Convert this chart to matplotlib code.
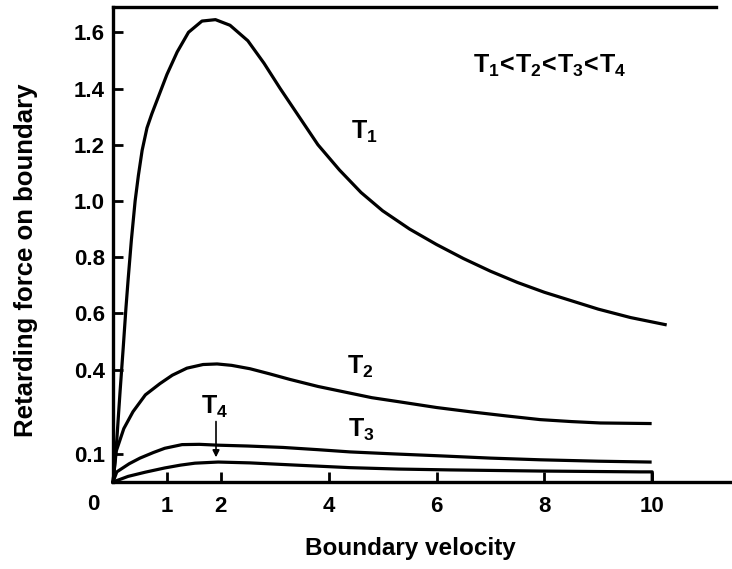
import matplotlib
matplotlib.use("Agg")
import matplotlib.pyplot as plt

plt.rcParams['font.family'] = ['Liberation Sans', 'DejaVu Sans']
plt.rcParams['mathtext.fontset'] = 'custom'
plt.rcParams['mathtext.rm'] = 'Liberation Sans:bold'
plt.rcParams['mathtext.it'] = 'Liberation Sans:bold'
plt.rcParams['mathtext.bf'] = 'Liberation Sans:bold'

# curves (velocity, force)
t1_x = [0, 0.03, 0.07, 0.13, 0.19, 0.24, 0.28, 0.34, 0.41, 0.47, 0.54, 0.63, 0.72, 0.82,
        1.0, 1.19, 1.4, 1.65, 1.9, 2.17, 2.5, 2.8, 3.1, 3.45, 3.8, 4.2, 4.6, 5.0, 5.5,
        6.0, 6.5, 7.0, 7.5, 8.0, 8.5, 9.0, 9.6, 10.24]
t1_y = [0, 0.06, 0.15, 0.32, 0.48, 0.62, 0.72, 0.86, 1.0, 1.09, 1.18, 1.26, 1.31, 1.36,
        1.45, 1.53, 1.60, 1.64, 1.645, 1.625, 1.57, 1.49, 1.40, 1.30, 1.20, 1.11, 1.03,
        0.965, 0.90, 0.845, 0.795, 0.75, 0.71, 0.675, 0.645, 0.615, 0.585, 0.56]

t2_x = [0, 0.06, 0.2, 0.37, 0.6, 0.87, 1.1, 1.37, 1.67, 1.93, 2.2, 2.54, 2.9, 3.28,
        3.8, 4.3, 4.8, 5.32, 6.0, 6.62, 7.3, 7.92, 8.5, 9.04, 9.96]
t2_y = [0, 0.11, 0.19, 0.25, 0.31, 0.35, 0.38, 0.405, 0.418, 0.42, 0.415, 0.403, 0.385,
        0.365, 0.34, 0.32, 0.30, 0.285, 0.265, 0.25, 0.235, 0.222, 0.215, 0.21, 0.208]

t3_x = [0, 0.07, 0.3, 0.5, 0.75, 0.96, 1.28, 1.6, 1.95, 2.5, 3.15, 3.8, 4.4, 5.2, 6.07,
        7.0, 7.92, 9.0, 9.96]
t3_y = [0, 0.036, 0.065, 0.085, 0.105, 0.12, 0.133, 0.134, 0.131, 0.128, 0.123, 0.115,
        0.107, 0.1, 0.093, 0.085, 0.079, 0.074, 0.071]

t4_x = [0, 0.28, 0.6, 0.96, 1.25, 1.52, 1.95, 2.54, 3.4, 4.4, 5.3, 6.25, 7.92, 9.78,
        10.0, 10.0]
t4_y = [0, 0.02, 0.035, 0.05, 0.06, 0.067, 0.071, 0.068, 0.06, 0.051, 0.046, 0.043,
        0.039, 0.036, 0.036, 0]

x_ticks = [1, 2, 4, 6, 8, 10]
y_ticks = [0.1, 0.4, 0.6, 0.8, 1.0, 1.2, 1.4, 1.6]

fig = plt.figure(figsize=(7.32, 5.69), dpi=100)
ax = fig.add_axes([0.1544, 0.1529, 0.8456, 0.8348])

for xs, ys in [(t1_x, t1_y), (t2_x, t2_y), (t3_x, t3_y), (t4_x, t4_y)]:
    ax.plot(xs, ys, color='black', lw=2.3, solid_joinstyle='round', clip_on=False)

ax.set_xlim(0, 11.48)
ax.set_ylim(0, 1.69)
ax.spines['right'].set_visible(False)
ax.spines['top'].set_bounds(0, 11.19)
for s in ['left', 'bottom', 'top']:
    ax.spines[s].set_linewidth(2.4)

ax.set_xticks(x_ticks)
ax.set_xticklabels([str(v) for v in x_ticks])
ax.set_yticks(y_ticks)
ax.set_yticklabels(['%.1f' % v for v in y_ticks])
ax.tick_params(direction='in', length=7.5, width=2, labelsize=16, pad=6)
ax.tick_params(axis='x', pad=10)
for lab in ax.get_xticklabels() + ax.get_yticklabels():
    lab.set_fontweight('bold')

ax.annotate('0', xy=(0, 0), xytext=(-14.5, -16.5), textcoords='offset points',
            ha='center', va='center', fontsize=16, fontweight='bold')

ax.set_xlabel('Boundary velocity', fontsize=17.5, fontweight='bold')
ax.set_ylabel('Retarding force on boundary', fontsize=18.5, fontweight='bold')
ax.xaxis.set_label_coords(0.48, -0.115)
ax.yaxis.set_label_coords(-0.122, 0.467)

ax.text(4.66, 1.245, r'$\mathregular{T_1}$', fontsize=18, fontweight='bold',
        ha='center', va='center')
ax.text(4.58, 0.41, r'$\mathregular{T_2}$', fontsize=18, fontweight='bold',
        ha='center', va='center')
ax.text(4.6, 0.185, r'$\mathregular{T_3}$', fontsize=18, fontweight='bold',
        ha='center', va='center')
ax.text(1.89, 0.267, r'$\mathregular{T_4}$', fontsize=18, fontweight='bold',
        ha='center', va='center')
ax.annotate('', xy=(1.91, 0.078), xytext=(1.91, 0.225),
            arrowprops=dict(arrowstyle='-|>', color='black', lw=1.2,
                            mutation_scale=10))
ax.text(6.68, 1.48, r'$\mathregular{T_1\!<\!T_2\!<\!T_3\!<\!T_4}$', fontsize=18,
        fontweight='bold', ha='left', va='center')

fig.savefig('out.png', dpi=100)
